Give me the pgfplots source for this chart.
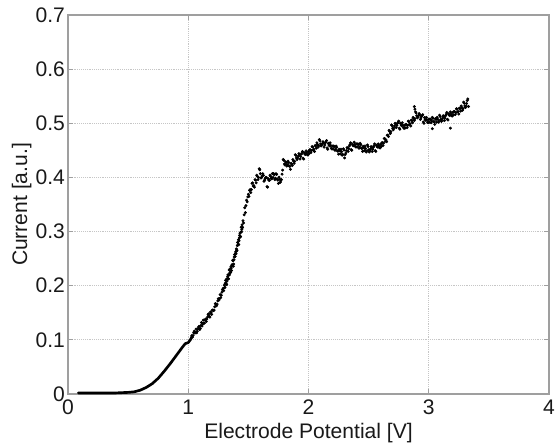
\documentclass[border=0pt]{standalone}
\usepackage{pgfplots}
\pgfplotsset{compat=1.18}
\usepackage{fontspec}
\setmainfont{Liberation Sans}
\begin{document}
\begin{tikzpicture}
\begin{axis}[
  at={(0,0)}, anchor=south west,
  scale only axis, width=360.75pt, height=284.25pt,
  xmin=0, xmax=4, ymin=0, ymax=0.7,
  xtick={0,1,2,3,4}, ytick={0,0.1,0.2,0.3,0.4,0.5,0.6,0.7},
  tick align=inside, tick pos=both,
  major tick length=3.5pt,
  every tick/.style={gray!75, line width=0.6pt},
  axis line style={gray!75, line width=0.8pt},
  grid=major, major grid style={gray!45, densely dotted, line width=0.6pt},
  /pgf/number format/assume math mode=true,
  tick label style={font=\fontsize{15.8}{19}\selectfont, color=black!90},
  yticklabel style={xshift=1.2pt},
  xticklabel style={yshift=-1pt},
  label style={font=\fontsize{15.8}{19}\selectfont, color=black!90},
  xlabel={Electrode Potential [V]},
  ylabel={Current [a.u.]},
  xlabel style={at={(axis description cs:0.5,-0.1187)}, anchor=base},
  ylabel style={at={(axis description cs:-0.0852,0.5)}, anchor=base},
]
\addplot[black, line width=2pt, line join=round, line cap=round] coordinates {
(0.086,0.002) (0.2,0.002) (0.3,0.002) (0.4,0.002) (0.5,0.003) (0.55,0.004)
(0.6,0.007) (0.65,0.012) (0.7,0.019) (0.75,0.029) (0.8,0.042) (0.85,0.056)
(0.9,0.071) (0.95,0.086) (0.975,0.093) (1.0,0.095) (1.02,0.101) (1.03,0.106)
};
\addplot[only marks, mark=*, mark size=0.9pt, black] table {
x y
1.03 0.108
1.04 0.108
1.05 0.116
1.06 0.114
1.07 0.113
1.08 0.120
1.09 0.125
1.10 0.121
1.11 0.132
1.12 0.129
1.13 0.131
1.14 0.137
1.15 0.134
1.16 0.142
1.17 0.148
1.18 0.142
1.19 0.150
1.20 0.155
1.21 0.154
1.22 0.161
1.23 0.166
1.24 0.166
1.25 0.176
1.26 0.176
1.27 0.178
1.28 0.188
1.29 0.195
1.035 0.105
1.045 0.113
1.055 0.1125
1.065 0.120
1.075 0.116
1.085 0.1235
1.095 0.119
1.105 0.1265
1.115 0.1255
1.125 0.1365
1.135 0.131
1.145 0.1385
1.155 0.1385
1.165 0.1465
1.175 0.1435
1.185 0.1515
1.195 0.147
1.205 0.155
1.215 0.155
1.225 0.167
1.235 0.163
1.245 0.172
1.255 0.1735
1.265 0.1835
1.275 0.1825
1.285 0.1925
1.295 0.191
1.300 0.201
1.305 0.197
1.310 0.210
1.315 0.2045
1.320 0.202
1.325 0.213
1.330 0.220
1.335 0.213
1.340 0.229
1.345 0.2235
1.350 0.225
1.355 0.235
1.360 0.228
1.365 0.239
1.370 0.247
1.375 0.236
1.380 0.248
1.385 0.2575
1.390 0.254
1.395 0.263
1.400 0.268
1.405 0.2655
1.410 0.280
1.415 0.2765
1.420 0.276
1.425 0.2885
1.430 0.297
1.435 0.291
1.440 0.308
1.445 0.304
1.450 0.307
1.455 0.320
1.460 0.316
1.465 0.331
1.470 0.344
1.475 0.335
1.480 0.348
1.485 0.358
1.490 0.355
1.495 0.364
1.500 0.369
1.3025 0.1965
1.3075 0.2045
1.3125 0.204
1.3175 0.212
1.3225 0.2085
1.3275 0.2165
1.3325 0.2125
1.3375 0.2205
1.3425 0.220
1.3475 0.231
1.3525 0.2245
1.3575 0.2325
1.3625 0.2375
1.3675 0.2365
1.3725 0.246
1.3775 0.240
1.3825 0.253
1.3875 0.254
1.3925 0.260
1.3975 0.259
1.4025 0.264
1.4075 0.274
1.4125 0.275
1.4175 0.285
1.4225 0.283
1.4275 0.293
1.4325 0.290
1.4375 0.299
1.4425 0.2995
1.4475 0.3125
1.4525 0.308
1.51 0.376
1.52 0.372
1.53 0.389
1.54 0.384
1.55 0.382
1.56 0.395
1.57 0.404
1.58 0.396
1.59 0.416
1.60 0.407
1.61 0.400
1.62 0.407
1.63 0.393
1.64 0.398
1.65 0.400
1.66 0.382
1.67 0.395
1.68 0.404
1.69 0.398
1.70 0.407
1.71 0.407
1.72 0.396
1.73 0.407
1.74 0.397
1.75 0.389
1.76 0.397
1.77 0.394
1.78 0.406
1.79 0.433
1.80 0.425
1.505 0.365
1.515 0.3775
1.525 0.3775
1.535 0.390
1.545 0.385
1.555 0.396
1.565 0.390
1.575 0.402
1.585 0.400
1.595 0.414
1.605 0.399
1.615 0.403
1.625 0.404
1.635 0.395
1.645 0.400
1.655 0.383
1.665 0.3975
1.675 0.3945
1.685 0.402
1.695 0.3975
1.705 0.400
1.715 0.405
1.725 0.3985
1.735 0.4055
1.745 0.395
1.755 0.4005
1.765 0.391
1.775 0.396
1.785 0.4135
1.795 0.4315
1.81 0.429
1.82 0.421
1.83 0.430
1.84 0.421
1.85 0.415
1.86 0.425
1.87 0.433
1.88 0.426
1.89 0.442
1.90 0.436
1.91 0.436
1.92 0.444
1.93 0.434
1.94 0.443
1.95 0.448
1.96 0.434
1.97 0.443
1.98 0.449
1.99 0.442
2.00 0.448
2.01 0.451
2.02 0.446
2.03 0.457
2.04 0.451
2.05 0.448
2.06 0.458
2.07 0.464
2.08 0.456
2.09 0.470
2.10 0.462
2.11 0.460
2.12 0.466
2.13 0.456
2.14 0.464
2.15 0.468
2.16 0.452
2.17 0.460
2.18 0.464
2.19 0.454
2.20 0.458
2.21 0.458
2.22 0.450
2.23 0.458
2.24 0.449
2.25 0.443
2.26 0.449
2.27 0.452
2.28 0.441
2.29 0.453
2.30 0.436
2.31 0.445
2.32 0.455
2.33 0.448
2.34 0.458
2.35 0.464
2.36 0.450
2.37 0.459
2.38 0.465
2.39 0.457
2.40 0.462
2.41 0.462
2.42 0.454
2.43 0.463
2.44 0.454
2.45 0.448
2.46 0.455
2.47 0.458
2.48 0.447
2.49 0.460
2.50 0.451
2.51 0.449
2.52 0.457
2.53 0.448
2.54 0.456
2.55 0.462
2.56 0.448
2.57 0.457
2.58 0.462
2.59 0.455
2.60 0.461
1.805 0.423
1.815 0.4275
1.825 0.4235
1.835 0.4275
1.845 0.4205
1.855 0.426
1.865 0.422
1.875 0.4305
1.885 0.4295
1.895 0.4405
1.905 0.433
1.915 0.4395
1.925 0.442
1.935 0.4385
1.945 0.445
1.955 0.4355
1.965 0.4455
1.975 0.4425
1.985 0.4455
1.995 0.4415
2.005 0.444
2.015 0.451
2.025 0.4495
2.035 0.456
2.045 0.452
2.055 0.459
2.065 0.454
2.075 0.461
2.085 0.4585
2.095 0.4675
2.105 0.458
2.115 0.4625
2.125 0.464
2.135 0.460
2.145 0.4655
2.155 0.4545
2.165 0.463
2.175 0.4585
2.185 0.459
2.195 0.4525
2.205 0.4525
2.215 0.4565
2.225 0.452
2.235 0.4555
2.245 0.4485
2.255 0.452
2.265 0.4435
2.275 0.4475
2.285 0.4425
2.295 0.4505
2.305 0.442
2.315 0.4495
2.325 0.4545
2.335 0.453
2.345 0.4605
2.355 0.4515
2.365 0.4615
2.375 0.4585
2.385 0.461
2.395 0.456
2.405 0.4565
2.415 0.4605
2.425 0.4565
2.435 0.4605
2.445 0.4535
2.455 0.4575
2.465 0.4495
2.475 0.4535
2.485 0.449
2.495 0.457
2.505 0.447
2.515 0.4525
2.525 0.4555
2.535 0.452
2.545 0.4585
2.555 0.4495
2.565 0.4595
2.575 0.456
2.585 0.4585
2.595 0.4545
2.61 0.464
2.62 0.459
2.63 0.472
2.64 0.467
2.65 0.466
2.66 0.478
2.67 0.487
2.68 0.481
2.69 0.497
2.70 0.491
2.71 0.491
2.72 0.500
2.73 0.492
2.74 0.500
2.75 0.504
2.76 0.489
2.77 0.497
2.78 0.501
2.79 0.492
2.80 0.496
2.81 0.498
2.82 0.492
2.83 0.504
2.84 0.498
2.85 0.495
2.86 0.505
2.87 0.511
2.88 0.505
2.88 0.531
2.885 0.526
2.89 0.521
2.90 0.514
2.91 0.512
2.92 0.518
2.93 0.507
2.94 0.513
2.95 0.516
2.96 0.500
2.97 0.507
2.98 0.511
2.99 0.502
3.00 0.507
3.01 0.508
3.02 0.501
3.03 0.511
3.03 0.490
3.04 0.503
3.05 0.498
3.06 0.507
3.07 0.511
3.08 0.502
3.09 0.515
3.10 0.507
3.11 0.506
3.12 0.514
3.13 0.505
3.14 0.514
3.15 0.520
3.16 0.506
3.17 0.515
3.18 0.521
3.18 0.491
3.19 0.514
3.20 0.520
3.21 0.522
3.22 0.516
3.23 0.527
3.24 0.521
3.25 0.517
3.26 0.527
3.27 0.532
3.28 0.524
3.29 0.539
3.30 0.532
3.31 0.532
3.32 0.542
3.325 0.545
3.33 0.531
2.605 0.457
2.615 0.464
2.625 0.4635
2.635 0.4715
2.645 0.469
2.655 0.478
2.665 0.4755
2.675 0.485
2.685 0.4845
2.695 0.4955
2.705 0.488
2.715 0.495
2.725 0.499
2.735 0.496
2.745 0.5015
2.755 0.491
2.765 0.500
2.775 0.4955
2.785 0.4965
2.795 0.4905
2.805 0.4915
2.815 0.4975
2.825 0.496
2.835 0.503
2.845 0.499
2.855 0.506
2.865 0.501
2.875 0.509
2.885 0.5085
2.895 0.519
2.905 0.510
2.915 0.5145
2.925 0.5155
2.935 0.510
2.945 0.514
2.955 0.5025
2.965 0.5105
2.975 0.5055
2.985 0.5065
2.995 0.501
3.005 0.502
3.015 0.507
3.025 0.504
3.035 0.509
3.045 0.503
3.055 0.5085
3.065 0.502
3.075 0.5075
3.085 0.504
3.095 0.5125
3.105 0.5035
3.115 0.5095
3.125 0.5125
3.135 0.5095
3.145 0.5165
3.155 0.5075
3.165 0.5175
3.175 0.5145
3.185 0.5175
3.195 0.5135
3.205 0.5155
3.215 0.5215
3.225 0.5195
3.235 0.526
3.245 0.5215
3.255 0.528
3.265 0.5225
3.275 0.529
3.285 0.527
3.295 0.537
3.305 0.529
3.315 0.5365
};
\end{axis}
\pgfresetboundingbox
\path (-51pt,-37.5pt) rectangle (366pt,295.5pt);
\end{tikzpicture}
\end{document}
